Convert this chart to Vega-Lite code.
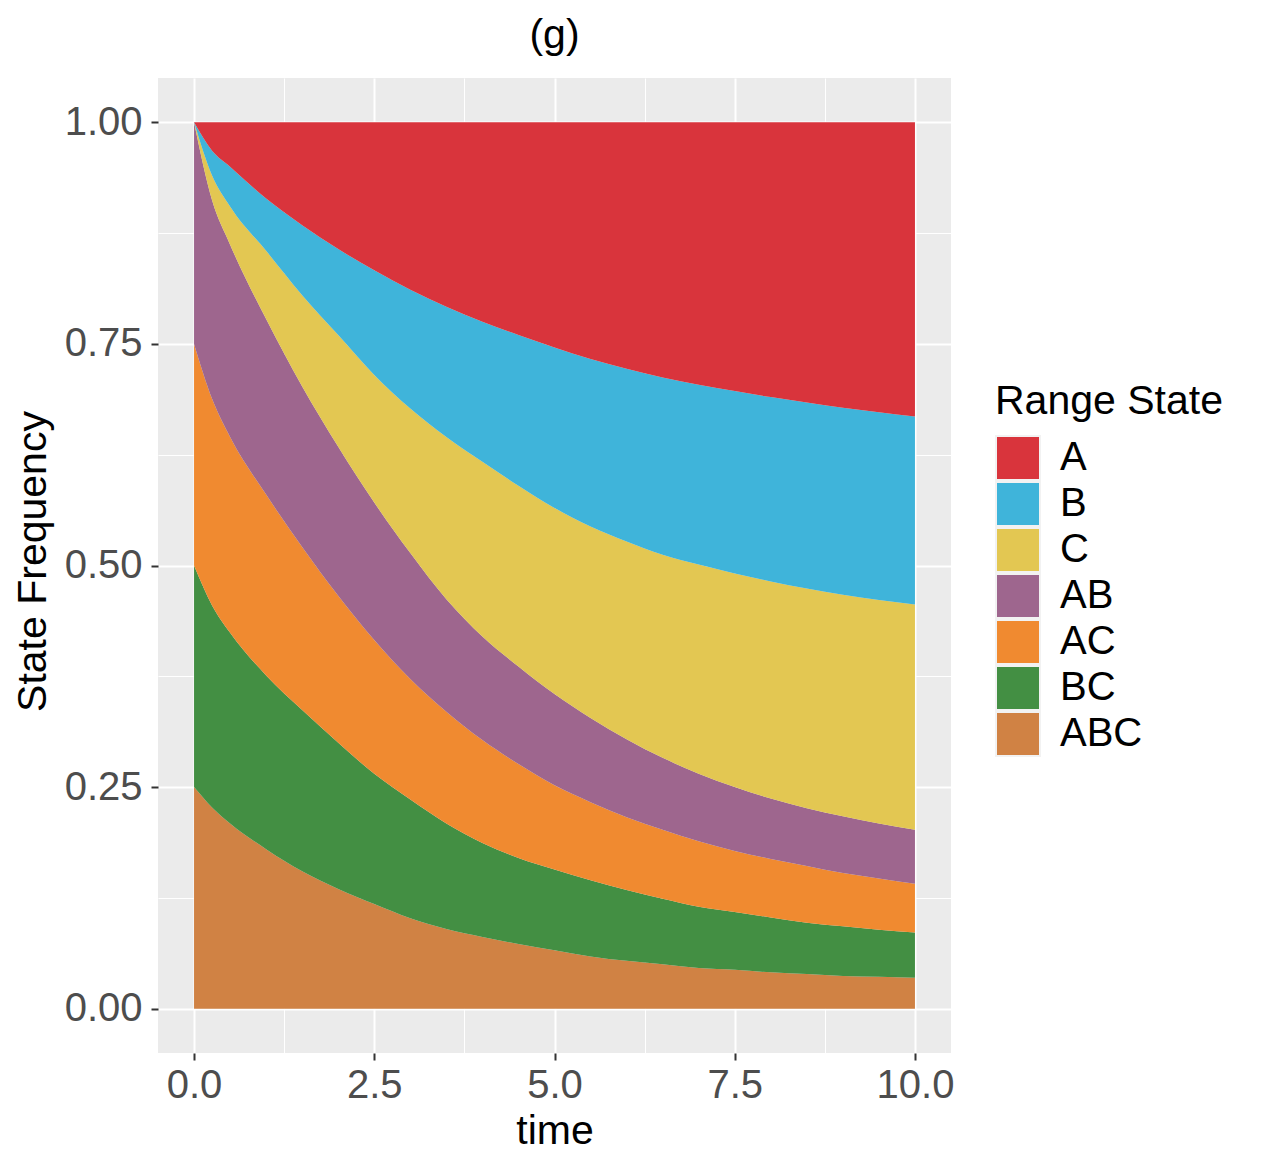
{
  "$schema": "https://vega.github.io/schema/vega-lite/v6.json",
  "width": 793,
  "height": 975,
  "autosize": {"type": "none"},
  "padding": {"left": 158, "top": 78, "right": 311, "bottom": 115},
  "background": "white",
  "title": {
    "text": "(g)",
    "fontSize": 41,
    "fontWeight": "normal",
    "color": "#000000",
    "anchor": "middle",
    "frame": "group",
    "baseline": "bottom",
    "offset": 23,
    "dy": 43
  },
  "config": {
    "font": "Liberation Sans",
    "view": {"fill": "#EBEBEB", "stroke": null}
  },
  "datasets": {
    "states": [
      {"s": "ABC", "k": 1},
      {"s": "BC", "k": 2},
      {"s": "AC", "k": 3},
      {"s": "AB", "k": 4},
      {"s": "C", "k": 5},
      {"s": "B", "k": 6},
      {"s": "A", "k": 7}
    ],
    "freq": [
      {"t": 0, "s": "ABC", "v": 0.25}, {"t": 0, "s": "BC", "v": 0.25}, {"t": 0, "s": "AC", "v": 0.25}, {"t": 0, "s": "AB", "v": 0.25}, {"t": 0, "s": "C", "v": 0}, {"t": 0, "s": "B", "v": 0}, {"t": 0, "s": "A", "v": 0},
      {"t": 0.25, "s": "ABC", "v": 0.227}, {"t": 0.25, "s": "BC", "v": 0.228}, {"t": 0.25, "s": "AC", "v": 0.233}, {"t": 0.25, "s": "AB", "v": 0.224}, {"t": 0.25, "s": "C", "v": 0.028}, {"t": 0.25, "s": "B", "v": 0.028}, {"t": 0.25, "s": "A", "v": 0.032},
      {"t": 0.5, "s": "ABC", "v": 0.209}, {"t": 0.5, "s": "BC", "v": 0.215}, {"t": 0.5, "s": "AC", "v": 0.221}, {"t": 0.5, "s": "AB", "v": 0.217}, {"t": 0.5, "s": "C", "v": 0.043}, {"t": 0.5, "s": "B", "v": 0.045}, {"t": 0.5, "s": "A", "v": 0.05},
      {"t": 1, "s": "ABC", "v": 0.18}, {"t": 1, "s": "BC", "v": 0.196}, {"t": 1, "s": "AC", "v": 0.204}, {"t": 1, "s": "AB", "v": 0.198}, {"t": 1, "s": "C", "v": 0.077}, {"t": 1, "s": "B", "v": 0.059}, {"t": 1, "s": "A", "v": 0.086},
      {"t": 1.5, "s": "ABC", "v": 0.155}, {"t": 1.5, "s": "BC", "v": 0.182}, {"t": 1.5, "s": "AC", "v": 0.184}, {"t": 1.5, "s": "AB", "v": 0.181}, {"t": 1.5, "s": "C", "v": 0.103}, {"t": 1.5, "s": "B", "v": 0.079}, {"t": 1.5, "s": "A", "v": 0.116},
      {"t": 2, "s": "ABC", "v": 0.135}, {"t": 2, "s": "BC", "v": 0.165}, {"t": 2, "s": "AC", "v": 0.166}, {"t": 2, "s": "AB", "v": 0.168}, {"t": 2, "s": "C", "v": 0.126}, {"t": 2, "s": "B", "v": 0.097}, {"t": 2, "s": "A", "v": 0.143},
      {"t": 2.5, "s": "ABC", "v": 0.118}, {"t": 2.5, "s": "BC", "v": 0.147}, {"t": 2.5, "s": "AC", "v": 0.151}, {"t": 2.5, "s": "AB", "v": 0.155}, {"t": 2.5, "s": "C", "v": 0.144}, {"t": 2.5, "s": "B", "v": 0.118}, {"t": 2.5, "s": "A", "v": 0.167},
      {"t": 3, "s": "ABC", "v": 0.102}, {"t": 3, "s": "BC", "v": 0.134}, {"t": 3, "s": "AC", "v": 0.136}, {"t": 3, "s": "AB", "v": 0.142}, {"t": 3, "s": "C", "v": 0.163}, {"t": 3, "s": "B", "v": 0.134}, {"t": 3, "s": "A", "v": 0.189},
      {"t": 3.5, "s": "ABC", "v": 0.09}, {"t": 3.5, "s": "BC", "v": 0.119}, {"t": 3.5, "s": "AC", "v": 0.126}, {"t": 3.5, "s": "AB", "v": 0.127}, {"t": 3.5, "s": "C", "v": 0.183}, {"t": 3.5, "s": "B", "v": 0.147}, {"t": 3.5, "s": "A", "v": 0.208},
      {"t": 4, "s": "ABC", "v": 0.081}, {"t": 4, "s": "BC", "v": 0.106}, {"t": 4, "s": "AC", "v": 0.116}, {"t": 4, "s": "AB", "v": 0.117}, {"t": 4, "s": "C", "v": 0.197}, {"t": 4, "s": "B", "v": 0.158}, {"t": 4, "s": "A", "v": 0.225},
      {"t": 4.5, "s": "ABC", "v": 0.073}, {"t": 4.5, "s": "BC", "v": 0.097}, {"t": 4.5, "s": "AC", "v": 0.106}, {"t": 4.5, "s": "AB", "v": 0.11}, {"t": 4.5, "s": "C", "v": 0.204}, {"t": 4.5, "s": "B", "v": 0.17}, {"t": 4.5, "s": "A", "v": 0.24},
      {"t": 5, "s": "ABC", "v": 0.066}, {"t": 5, "s": "BC", "v": 0.091}, {"t": 5, "s": "AC", "v": 0.095}, {"t": 5, "s": "AB", "v": 0.103}, {"t": 5, "s": "C", "v": 0.21}, {"t": 5, "s": "B", "v": 0.181}, {"t": 5, "s": "A", "v": 0.254},
      {"t": 5.5, "s": "ABC", "v": 0.059}, {"t": 5.5, "s": "BC", "v": 0.086}, {"t": 5.5, "s": "AC", "v": 0.088}, {"t": 5.5, "s": "AB", "v": 0.095}, {"t": 5.5, "s": "C", "v": 0.216}, {"t": 5.5, "s": "B", "v": 0.189}, {"t": 5.5, "s": "A", "v": 0.267},
      {"t": 6, "s": "ABC", "v": 0.054}, {"t": 6, "s": "BC", "v": 0.08}, {"t": 6, "s": "AC", "v": 0.082}, {"t": 6, "s": "AB", "v": 0.088}, {"t": 6, "s": "C", "v": 0.223}, {"t": 6, "s": "B", "v": 0.195}, {"t": 6, "s": "A", "v": 0.278},
      {"t": 6.5, "s": "ABC", "v": 0.05}, {"t": 6.5, "s": "BC", "v": 0.074}, {"t": 6.5, "s": "AC", "v": 0.078}, {"t": 6.5, "s": "AB", "v": 0.081}, {"t": 6.5, "s": "C", "v": 0.229}, {"t": 6.5, "s": "B", "v": 0.2}, {"t": 6.5, "s": "A", "v": 0.288},
      {"t": 7, "s": "ABC", "v": 0.046}, {"t": 7, "s": "BC", "v": 0.069}, {"t": 7, "s": "AC", "v": 0.074}, {"t": 7, "s": "AB", "v": 0.076}, {"t": 7, "s": "C", "v": 0.236}, {"t": 7, "s": "B", "v": 0.203}, {"t": 7, "s": "A", "v": 0.296},
      {"t": 7.5, "s": "ABC", "v": 0.044}, {"t": 7.5, "s": "BC", "v": 0.065}, {"t": 7.5, "s": "AC", "v": 0.069}, {"t": 7.5, "s": "AB", "v": 0.072}, {"t": 7.5, "s": "C", "v": 0.241}, {"t": 7.5, "s": "B", "v": 0.206}, {"t": 7.5, "s": "A", "v": 0.303},
      {"t": 8, "s": "ABC", "v": 0.041}, {"t": 8, "s": "BC", "v": 0.062}, {"t": 8, "s": "AC", "v": 0.066}, {"t": 8, "s": "AB", "v": 0.068}, {"t": 8, "s": "C", "v": 0.245}, {"t": 8, "s": "B", "v": 0.208}, {"t": 8, "s": "A", "v": 0.31},
      {"t": 8.5, "s": "ABC", "v": 0.039}, {"t": 8.5, "s": "BC", "v": 0.058}, {"t": 8.5, "s": "AC", "v": 0.064}, {"t": 8.5, "s": "AB", "v": 0.065}, {"t": 8.5, "s": "C", "v": 0.248}, {"t": 8.5, "s": "B", "v": 0.21}, {"t": 8.5, "s": "A", "v": 0.316},
      {"t": 9, "s": "ABC", "v": 0.037}, {"t": 9, "s": "BC", "v": 0.056}, {"t": 9, "s": "AC", "v": 0.06}, {"t": 9, "s": "AB", "v": 0.064}, {"t": 9, "s": "C", "v": 0.25}, {"t": 9, "s": "B", "v": 0.211}, {"t": 9, "s": "A", "v": 0.322},
      {"t": 9.5, "s": "ABC", "v": 0.036}, {"t": 9.5, "s": "BC", "v": 0.053}, {"t": 9.5, "s": "AC", "v": 0.058}, {"t": 9.5, "s": "AB", "v": 0.062}, {"t": 9.5, "s": "C", "v": 0.252}, {"t": 9.5, "s": "B", "v": 0.212}, {"t": 9.5, "s": "A", "v": 0.327},
      {"t": 10, "s": "ABC", "v": 0.035}, {"t": 10, "s": "BC", "v": 0.051}, {"t": 10, "s": "AC", "v": 0.055}, {"t": 10, "s": "AB", "v": 0.061}, {"t": 10, "s": "C", "v": 0.254}, {"t": 10, "s": "B", "v": 0.212}, {"t": 10, "s": "A", "v": 0.332}
    ]
  },
  "data": {"name": "freq"},
  "transform": [
    {"lookup": "s", "from": {"data": {"name": "states"}, "key": "s", "fields": ["k"]}}
  ],
  "layer": [
    {
      "mark": {"type": "area", "interpolate": "monotone"},
      "encoding": {
        "x": {
          "field": "t",
          "type": "quantitative",
          "scale": {"domain": [-0.5, 10.5], "nice": false, "zero": false},
          "axis": {
            "values": [0, 2.5, 5, 7.5, 10],
            "format": ".1f",
            "title": "time",
            "grid": true,
            "gridColor": "#FFFFFF",
            "gridWidth": 2,
            "domain": false,
            "tickColor": "#333333",
            "tickWidth": 2,
            "tickSize": 7,
            "labelFontSize": 40,
            "labelColor": "#4D4D4D",
            "labelPadding": 5,
            "titleFontSize": 41,
            "titleFontWeight": "normal",
            "titleColor": "#000000",
            "titleX": 396.5,
            "titleY": 90,
            "titleBaseline": "alphabetic"
          }
        },
        "y": {
          "field": "v",
          "type": "quantitative",
          "stack": "zero",
          "scale": {"domain": [-0.05, 1.05], "nice": false, "zero": false},
          "axis": {
            "values": [0, 0.25, 0.5, 0.75, 1],
            "format": ".2f",
            "title": "State Frequency",
            "grid": true,
            "gridColor": "#FFFFFF",
            "gridWidth": 2,
            "domain": false,
            "tickColor": "#333333",
            "tickWidth": 2,
            "tickSize": 7,
            "labelFontSize": 40,
            "labelColor": "#4D4D4D",
            "labelPadding": 9,
            "titleFontSize": 41,
            "titleFontWeight": "normal",
            "titleColor": "#000000",
            "titleX": -113,
            "titleY": 483,
            "titleBaseline": "alphabetic"
          }
        },
        "color": {
          "field": "s",
          "type": "nominal",
          "title": "Range State",
          "scale": {
            "domain": ["A", "B", "C", "AB", "AC", "BC", "ABC"],
            "range": ["#D9343C", "#3FB4DA", "#E3C752", "#9E668E", "#F08A30", "#438F43", "#D08244"]
          },
          "legend": {
            "orient": "none",
            "legendX": 837,
            "legendY": 304,
            "padding": 0,
            "titleFontSize": 41,
            "titleFontWeight": "normal",
            "titleColor": "#000000",
            "titlePadding": 12,
            "titleLimit": 400,
            "labelFontSize": 40,
            "labelColor": "#000000",
            "labelOffset": 19,
            "labelLimit": 300,
            "symbolType": "square",
            "symbolSize": 1936,
            "symbolOpacity": 1,
            "symbolStrokeColor": "#F2F2F2",
            "symbolStrokeWidth": 2,
            "clipHeight": 46,
            "rowPadding": 0
          }
        },
        "order": {"field": "k", "type": "quantitative"}
      }
    },
    {
      "mark": {"type": "point", "opacity": 0},
      "encoding": {
        "x": {
          "field": "t",
          "type": "quantitative",
          "scale": {"domain": [-0.5, 10.5], "nice": false, "zero": false},
          "axis": {
            "values": [1.25, 3.75, 6.25, 8.75],
            "grid": true,
            "gridColor": "#FFFFFF",
            "gridWidth": 1,
            "labels": false,
            "ticks": false,
            "domain": false,
            "title": null
          }
        },
        "y": {
          "field": "v",
          "type": "quantitative",
          "scale": {"domain": [-0.05, 1.05], "nice": false, "zero": false},
          "axis": {
            "values": [0.125, 0.375, 0.625, 0.875],
            "grid": true,
            "gridColor": "#FFFFFF",
            "gridWidth": 1,
            "labels": false,
            "ticks": false,
            "domain": false,
            "title": null
          }
        }
      }
    }
  ],
  "resolve": {"axis": {"x": "independent", "y": "independent"}}
}
